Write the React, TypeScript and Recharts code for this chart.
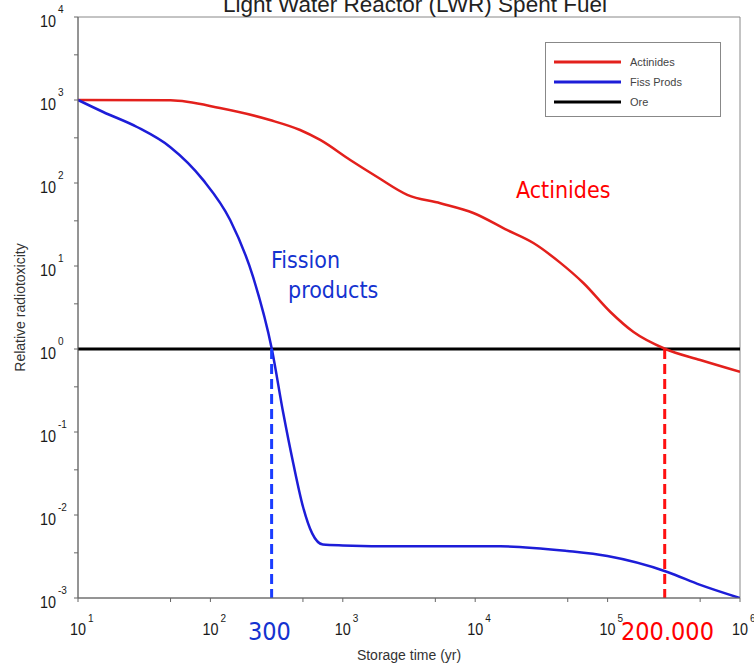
import React from 'react';
import { LineChart, Line, XAxis, YAxis, Legend, ReferenceArea } from 'recharts';

// ---- Data ----
const actinideTimes = [10, 50, 118, 282, 476, 675, 1138, 1820, 3070, 5450, 9680, 17500, 27500, 44000, 65600, 105000, 157000, 273000, 501000, 1000000];
const actinideValues = [1000, 990, 800, 574, 435, 330, 189, 118, 72, 57, 43.5, 27, 18.9, 10.9, 6.24, 2.79, 1.6, 1, 0.736, 0.53];

const fissionTimes = [10, 15.5, 27.9, 49.6, 88, 141, 210, 291, 355, 422, 501, 587, 707, 1000, 2720, 15500, 49600, 99600, 283000, 501000, 1000000];
const fissionValues = [1000, 717, 473, 272, 109, 35.8, 7.4, 1, 0.169, 0.0423, 0.0125, 0.006, 0.0044, 0.0043, 0.0042, 0.0042, 0.00368, 0.0032, 0.00206, 0.00144, 0.001];

const oreTimes = [10, 1000000];
const oreValues = [1, 1];

const fissionMarkTimes = [290, 290];
const fissionMarkValues = [1, 0.001];
const actinideMarkTimes = [270000, 270000];
const actinideMarkValues = [1, 0.001];

const xTicks = [10, 50, 100, 500, 1000, 5000, 10000, 50000, 100000, 500000, 1000000];
const yTicks = [0.001, 0.0035, 0.01, 0.035, 0.1, 0.35, 1, 3.5, 10, 35, 100, 350, 1000, 3500, 10000];

const seriesNames = ['Actinides', 'Fiss Prods', 'Ore'];
const seriesColors = ['#e3201c', '#1d1dd8', '#000000'];

const zip = (xs: number[], ys: number[]) => xs.map((x, i) => ({ x, y: ys[i] }));

const actinideData = zip(actinideTimes, actinideValues);
const fissionData = zip(fissionTimes, fissionValues);
const oreData = zip(oreTimes, oreValues);
const fissionMark = zip(fissionMarkTimes, fissionMarkValues);
const actinideMark = zip(actinideMarkTimes, actinideMarkValues);

const axisFont = '"Liberation Sans", Arial, sans-serif';
const annoFont = '"DejaVu Sans Condensed", "DejaVu Sans", sans-serif';

const isDecade = (v: number) => Math.abs(Math.log10(v) - Math.round(Math.log10(v))) < 1e-6;

const XTick = (props: any) => {
  const { x, y, payload } = props;
  const v = payload.value;
  if (!isDecade(v)) return null;
  const e = Math.round(Math.log10(v));
  return (
    <g fontFamily={axisFont} fill="#1a1a1a">
      <text x={x} y={y + 31} textAnchor="middle" fontSize={17} textLength={16} lengthAdjust="spacingAndGlyphs">10</text>
      <text x={x + 10} y={y + 18} textAnchor="start" fontSize={10}>{e}</text>
    </g>
  );
};

const YTick = (props: any) => {
  const { x, y, payload } = props;
  const v = payload.value;
  if (!isDecade(v)) return null;
  const e = Math.round(Math.log10(v));
  return (
    <g fontFamily={axisFont} fill="#1a1a1a">
      <text x={x - 16} y={y + 10} textAnchor="end" fontSize={17} textLength={16} lengthAdjust="spacingAndGlyphs">10</text>
      <text x={x - 14} y={y - 4} textAnchor="start" fontSize={10}>{e}</text>
    </g>
  );
};

const LegendBox = () => (
  <div
    style={{
      border: '1px solid #888',
      background: '#fff',
      width: 176,
      height: 75,
      boxSizing: 'border-box',
      fontFamily: axisFont,
      fontSize: 11,
      color: '#444',
      paddingTop: 9,
    }}
  >
    {seriesNames.map((n, i) => (
      <div key={n} style={{ display: 'flex', alignItems: 'center', height: 20 }}>
        <svg width={84} height={6} style={{ display: 'block' }}>
          <line x1={8} x2={75} y1={3} y2={3} stroke={seriesColors[i]} strokeWidth={3} />
        </svg>
        <span>{n}</span>
      </div>
    ))}
  </div>
);

export default function App() {
  return (
    <div style={{ position: 'absolute', left: 0, top: 0, width: 754, height: 668, background: '#fff' }}>
      <LineChart width={754} height={668} margin={{ top: 17, right: 14, bottom: 0, left: 0 }}>
        <XAxis
          dataKey="x"
          type="number"
          scale="log"
          domain={[10, 1000000]}
          allowDataOverflow
          ticks={xTicks}
          interval={0}
          tick={<XTick />}
          tickSize={4}
          height={70}
          stroke="#666"
          label={{ value: 'Storage time (yr)', position: 'insideBottom', offset: 8, style: { fontFamily: axisFont, fontSize: 14, fill: '#333' } }}
        />
        <YAxis
          dataKey="y"
          type="number"
          scale="log"
          domain={[0.001, 10000]}
          allowDataOverflow
          ticks={yTicks}
          interval={0}
          tick={<YTick />}
          tickSize={4}
          width={78}
          stroke="#666"
          label={{ value: 'Relative radiotoxicity', angle: -90, position: 'insideLeft', offset: 20, style: { fontFamily: axisFont, fontSize: 14, fill: '#333', textAnchor: 'middle' } }}
        />
        <ReferenceArea x1={10} x2={1000000} y1={0.001} y2={10000} fill="none" stroke="#888" strokeWidth={1} />
        <Line data={oreData} dataKey="y" name="Ore" stroke={seriesColors[2]} strokeWidth={3} dot={false} isAnimationActive={false} type="linear" />
        <Line data={actinideData} dataKey="y" name="Actinides" stroke={seriesColors[0]} strokeWidth={2.5} dot={false} isAnimationActive={false} type="monotone" />
        <Line data={fissionData} dataKey="y" name="Fiss Prods" stroke={seriesColors[1]} strokeWidth={2.5} dot={false} isAnimationActive={false} type="monotone" />
        <Line data={fissionMark} dataKey="y" name="mark300" stroke="#1a3cff" strokeWidth={3} strokeDasharray="10 5" dot={false} isAnimationActive={false} legendType="none" />
        <Line data={actinideMark} dataKey="y" name="mark200000" stroke="#ff1010" strokeWidth={3} strokeDasharray="10 5" dot={false} isAnimationActive={false} legendType="none" />
        <Legend
          layout="vertical"
          align="center"
          verticalAlign="middle"
          content={<LegendBox />}
          wrapperStyle={{ left: 545, top: 42, width: 176, height: 75 }}
        />
      </LineChart>
      <svg width={754} height={668} style={{ position: 'absolute', left: 0, top: 0, pointerEvents: 'none' }}>
        <text x={415} y={12} textAnchor="middle" fontFamily={axisFont} fontSize={22.5} fill="#222">Light Water Reactor (LWR) Spent Fuel</text>
        <text x={271} y={268} fontFamily={annoFont} fontSize={23} fill="#1433d0">Fission</text>
        <text x={288} y={298} fontFamily={annoFont} fontSize={23} fill="#1433d0">products</text>
        <text x={516} y={198} fontFamily={annoFont} fontSize={23} fill="#ff0000">Actinides</text>
        <text x={248} y={640} fontFamily={annoFont} fontSize={25} fill="#1433d0">300</text>
        <text x={621} y={640} fontFamily={annoFont} fontSize={25} fill="#ff0000">200.000</text>
      </svg>
    </div>
  );
}
